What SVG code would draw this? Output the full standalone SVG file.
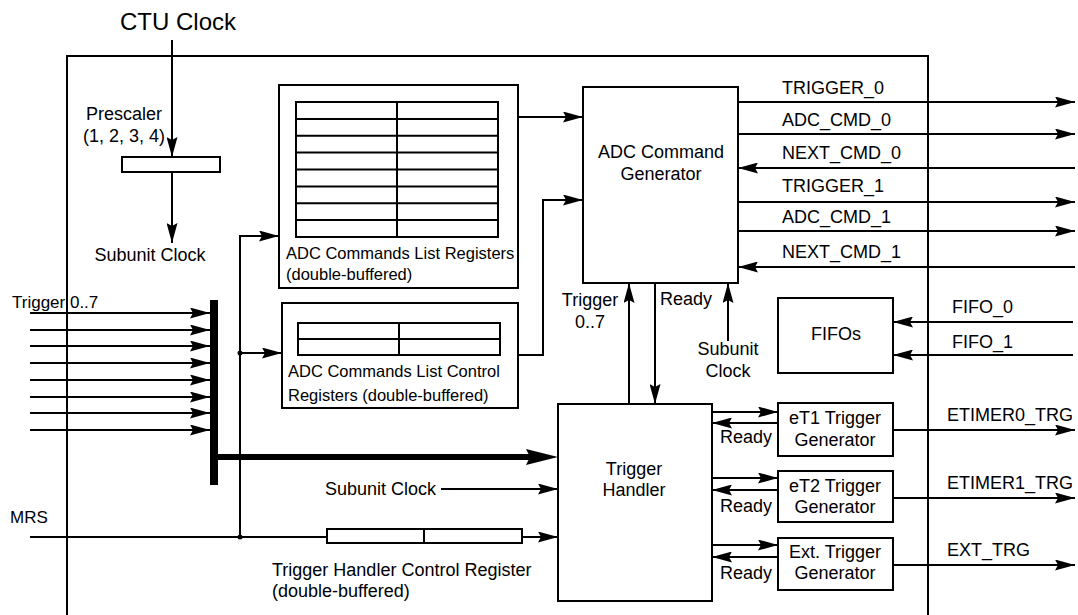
<svg xmlns="http://www.w3.org/2000/svg" width="1078" height="615" viewBox="0 0 1078 615">
<style>
text{font-family:"Liberation Sans",Arial,sans-serif;font-size:18px;fill:#000}
.s{font-size:16.5px}
.m{text-anchor:middle}
.box{fill:#fff;stroke:#000;stroke-width:2}
.ln{fill:none;stroke:#000;stroke-width:2}
.arr{fill:none;stroke:#000;stroke-width:2;marker-end:url(#ah)}
</style>
<defs>
<marker id="ah" markerUnits="userSpaceOnUse" markerWidth="20" markerHeight="11" refX="20" refY="5.5" orient="auto" viewBox="0 0 20 11">
<path d="M0,0 L20,5.5 L0,11 L3,5.5 z" fill="#000"/>
</marker>
</defs>
<rect width="1078" height="615" fill="#fff"/>
<path id="outer" class="ln" d="M67,615 V56 H928 V615"/>
<text x="178" y="30" class="m" style="font-size:24px">CTU Clock</text>

<g id="prescaler">
<text x="124" y="120" class="m">Prescaler</text>
<text x="124" y="142" class="m">(1, 2, 3, 4)</text>
<rect class="box" x="122" y="157" width="98" height="15"/>
<text x="150" y="261" class="m">Subunit Clock</text>
</g>

<g id="adc-list-regs">
<rect class="box" x="279" y="85" width="239" height="203"/>
<rect class="box" x="296" y="102" width="202" height="135"/>
<path class="ln" d="M397,102 V237 M296,118.9 H498 M296,135.8 H498 M296,152.6 H498 M296,169.5 H498 M296,186.4 H498 M296,203.2 H498 M296,220.1 H498"/>
<text x="286" y="259" class="s">ADC Commands List Registers</text>
<text x="286" y="280" class="s">(double-buffered)</text>
</g>

<g id="adc-ctrl-regs">
<rect class="box" x="282" y="303" width="236" height="105"/>
<rect class="box" x="298" y="323" width="202" height="32"/>
<path class="ln" d="M399,323 V355 M298,339 H500"/>
<text x="288" y="377" class="s">ADC Commands List Control</text>
<text x="288" y="401" class="s">Registers (double-buffered)</text>
</g>

<g id="adc-cmd-gen">
<rect class="box" x="583" y="87" width="155" height="196"/>
<text x="661" y="158" class="m">ADC Command</text>
<text x="661" y="180" class="m">Generator</text>
</g>

<g id="fifos">
<rect class="box" x="778" y="298" width="115" height="75"/>
<text x="836" y="340" class="m">FIFOs</text>
</g>

<g id="trigger-handler">
<rect class="box" x="558" y="404" width="154" height="197"/>
<text x="634" y="475" class="m">Trigger</text>
<text x="634" y="496" class="m">Handler</text>
</g>

<g id="et1-gen">
<rect class="box" x="778" y="403" width="115" height="53"/>
<text x="835" y="424" class="m">eT1 Trigger</text>
<text x="835" y="446" class="m">Generator</text>
</g>
<g id="et2-gen">
<rect class="box" x="778" y="471" width="115" height="51"/>
<text x="835" y="492" class="m">eT2 Trigger</text>
<text x="835" y="513" class="m">Generator</text>
</g>
<g id="ext-gen">
<rect class="box" x="778" y="538" width="115" height="52"/>
<text x="835" y="558" class="m">Ext. Trigger</text>
<text x="835" y="579" class="m">Generator</text>
</g>

<g id="trigger-bus">
<rect x="210" y="300" width="8" height="185" fill="#000"/>
</g>

<g id="th-ctrl-reg">
<rect class="box" x="327" y="529" width="195" height="14"/>
<path class="ln" d="M424,529 V543"/>
<text x="272" y="576">Trigger Handler Control Register</text>
<text x="272" y="597">(double-buffered)</text>
</g>

<g id="connectors">
<line class="arr" x1="172" y1="40" x2="172" y2="157"/>
<line class="arr" x1="172" y1="172" x2="172" y2="243"/>
<line class="arr" x1="518" y1="117" x2="583" y2="117"/>
<polyline class="arr" points="518,355 543,355 543,200 583,200"/>
<polyline class="arr" points="240,537 240,236 279,236"/>
<line class="arr" x1="240" y1="353" x2="282" y2="353"/>
<circle cx="240" cy="353" r="2.5" fill="#000"/>
<circle cx="240" cy="537" r="2.5" fill="#000"/>

<line class="arr" x1="738" y1="102" x2="1075" y2="102"/>
<line class="arr" x1="738" y1="134" x2="1075" y2="134"/>
<line class="arr" x1="1075" y1="168" x2="738" y2="168"/>
<line class="arr" x1="738" y1="202" x2="1075" y2="202"/>
<line class="arr" x1="738" y1="231" x2="1075" y2="231"/>
<line class="arr" x1="1075" y1="267" x2="738" y2="267"/>
<text x="782" y="94">TRIGGER_0</text>
<text x="782" y="126">ADC_CMD_0</text>
<text x="782" y="159">NEXT_CMD_0</text>
<text x="782" y="192">TRIGGER_1</text>
<text x="782" y="223">ADC_CMD_1</text>
<text x="782" y="258">NEXT_CMD_1</text>

<line class="arr" x1="1073" y1="322" x2="893" y2="322"/>
<line class="arr" x1="1073" y1="355" x2="893" y2="355"/>
<text x="952" y="313">FIFO_0</text>
<text x="952" y="348">FIFO_1</text>

<line class="arr" x1="629" y1="404" x2="629" y2="283"/>
<line class="arr" x1="655" y1="283" x2="655" y2="404"/>
<line class="arr" x1="728" y1="341" x2="728" y2="283"/>
<text x="590" y="306" class="m">Trigger</text>
<text x="590" y="328" class="m">0..7</text>
<text x="660" y="305">Ready</text>
<text x="728" y="355" class="m">Subunit</text>
<text x="728" y="377" class="m">Clock</text>

<line class="arr" x1="712" y1="412" x2="778" y2="412"/>
<line class="arr" x1="778" y1="423" x2="712" y2="423"/>
<line class="arr" x1="712" y1="478" x2="778" y2="478"/>
<line class="arr" x1="778" y1="490" x2="712" y2="490"/>
<line class="arr" x1="712" y1="545" x2="778" y2="545"/>
<line class="arr" x1="778" y1="557" x2="712" y2="557"/>
<text x="720" y="443">Ready</text>
<text x="720" y="512">Ready</text>
<text x="720" y="579">Ready</text>

<line class="arr" x1="893" y1="430" x2="1075" y2="430"/>
<line class="arr" x1="893" y1="498" x2="1075" y2="498"/>
<line class="arr" x1="893" y1="565" x2="1075" y2="565"/>
<text x="947" y="421">ETIMER0_TRG</text>
<text x="947" y="489">ETIMER1_TRG</text>
<text x="947" y="556">EXT_TRG</text>

<line class="arr" x1="30" y1="313" x2="210" y2="313"/>
<line class="arr" x1="30" y1="330" x2="210" y2="330"/>
<line class="arr" x1="30" y1="346" x2="210" y2="346"/>
<line class="arr" x1="30" y1="363" x2="210" y2="363"/>
<line class="arr" x1="30" y1="380" x2="210" y2="380"/>
<line class="arr" x1="30" y1="397" x2="210" y2="397"/>
<line class="arr" x1="30" y1="413" x2="210" y2="413"/>
<line class="arr" x1="30" y1="430" x2="210" y2="430"/>
<text x="12" y="308" style="font-size:17px">Trigger 0..7</text>

<line x1="218" y1="457" x2="532" y2="457" stroke="#000" stroke-width="6"/>
<path d="M558,457 L526,449 L530,457 L526,465 z" fill="#000"/>

<line class="arr" x1="441" y1="489" x2="558" y2="489"/>
<text x="325" y="495">Subunit Clock</text>

<line class="ln" x1="30" y1="537" x2="327" y2="537"/>
<line class="arr" x1="522" y1="537" x2="558" y2="537"/>
<text x="10" y="523" style="font-size:17px">MRS</text>
</g>
</svg>
